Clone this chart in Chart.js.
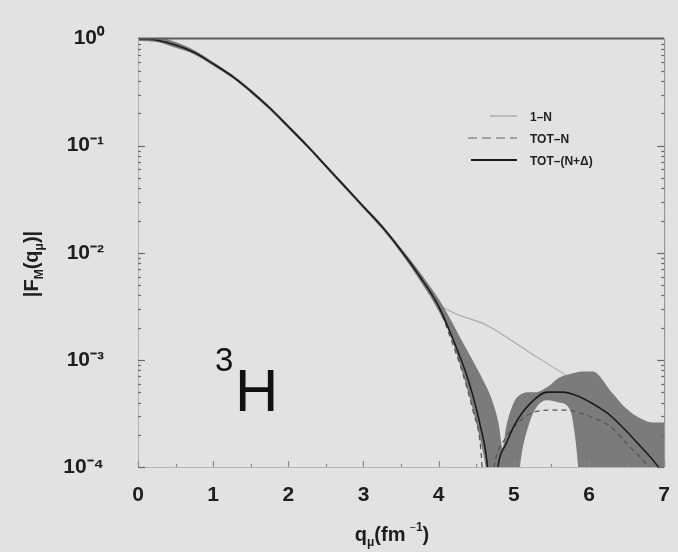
<!DOCTYPE html>
<html><head><meta charset="utf-8">
<script src="https://cdn.jsdelivr.net/npm/chart.js@4.4.1/dist/chart.umd.min.js"></script>
<style>
html,body{margin:0;padding:0;background:#e2e2e2;}
#wrap{width:678px;height:552px;position:relative;}
</style></head><body>
<div id="wrap"><canvas id="c" width="678" height="552"></canvas></div>
<script>
// ---- data ----
const qMain = [0,0.25,0.5,0.75,1,1.25,1.5,1.75,2,2.25,2.5,2.75,3,3.25,3.5,3.75];
const fMain = [1,0.966,0.871,0.741,0.582,0.447,0.324,0.226,0.151,0.100,0.0646,0.0417,0.0269,0.0174,0.0105,0.0060];

const q1NTail = [3.95,4.2,4.62,5.19,5.75,6.2,6.6,7.0];
const f1NTail = [0.0036,0.00275,0.00214,0.0012,0.00068,0.00044,0.00029,0.0002];

const qTotNTail = [4.0,4.15,4.3,4.45,4.56,4.63,4.75,4.9,5.1,5.3,5.5,5.7,5.9,6.1,6.28,6.5,6.77,7.0];
const fTotNTail = [0.00316,0.00166,0.00083,0.00035,0.00015,0.00003,0.000112,0.00019,0.000275,0.00033,0.00034,0.00034,0.000316,0.00028,0.00024,0.000166,0.000105,0.000063];

const qTotNDTail = [4.0,4.2,4.4,4.55,4.65,4.7,4.8,4.9,5.0,5.2,5.45,5.65,5.85,6.05,6.25,6.45,6.65,6.9,7.0];
const fTotNDTail = [0.00316,0.0015,0.00063,0.00025,0.0001,0.00003,0.000112,0.000166,0.00024,0.00038,0.0005,0.0005,0.00046,0.00039,0.000316,0.000234,0.000166,0.000105,0.000083];

const qBand = [0,0.25,0.5,0.75,1,1.25,1.5,1.75,2,2.25,2.5,2.75,3,3.25,3.5,3.75,4.0,4.15,4.3,4.45,4.6,4.7,4.8,4.85,4.9,5.0,5.1,5.2,5.3,5.45,5.6,5.75,5.82,5.9,6.05,6.3,6.5,6.7,6.85,7.0];
const bandUpper = [1.08,1.04,0.93,0.78,0.606,0.464,0.337,0.235,0.157,0.104,0.0672,0.0434,0.028,0.0182,0.0111,0.0066,0.0037,0.00245,0.00155,0.001,0.00063,0.00044,0.00025,0.00015,0.00024,0.0004,0.00048,0.0005,0.0005,0.00056,0.00068,0.00074,0.00076,0.00078,0.00078,0.0005,0.00035,0.00028,0.00026,0.00026];
const bandLower = [0.95,0.93,0.82,0.712,0.559,0.43,0.311,0.217,0.145,0.096,0.062,0.040,0.0258,0.0166,0.0099,0.0055,0.00285,0.00174,0.00083,0.000355,0.000126,0.00005,0.000025,0.000025,0.000025,0.000032,0.000126,0.00025,0.00036,0.00042,0.0004,0.00034,0.00018,0.00005,0.000025,0.000025,0.000025,0.000025,0.000025,0.000025];

const xTicks = [0,1,2,3,4,5,6,7];
const yTickValues = [1e-4,1e-3,1e-2,1e-1,1];
const yTickLabels = ['10\u207B\u2074','10\u207B\u00B3','10\u207B\u00B2','10\u207B\u00B9','10\u2070'];
const legendLabels = ['1\u2013N','TOT\u2013N','TOT\u2013(N+\u0394)'];

// ---- helpers ----
const pts = (qs, fs) => qs.map((q,i)=>({x:q, y:fs[i]}));
const FONT = '"Liberation Sans", Arial, Helvetica, sans-serif';

const data1N = pts(qMain, fMain).concat(pts(q1NTail, f1NTail));
const dataTotN = pts(qMain, fMain).concat(pts(qTotNTail, fTotNTail));
const dataTotND = pts(qMain, fMain).concat(pts(qTotNDTail, fTotNDTail));

const style1N = {color:'#a9a9a9', width:1.1, dash:[]};
const styleTotN = {color:'#555555', width:1.3, dash:[5,4]};
const styleTotND = {color:'#1c1c1c', width:1.6, dash:[]};

function drawRich(ctx, parts, x, y, align){
  let w = 0;
  parts.forEach(p=>{ ctx.font = (p.w||'bold')+' '+p.s+'px '+FONT; w += ctx.measureText(p.t).width + (p.gap||0); });
  let cx = align==='center' ? x - w/2 : x;
  parts.forEach(p=>{ ctx.font = (p.w||'bold')+' '+p.s+'px '+FONT; ctx.fillText(p.t, cx, y + (p.dy||0)); cx += ctx.measureText(p.t).width + (p.gap||0); });
}

const deco = {
  id:'deco',
  beforeDraw(chart){
    const ctx = chart.ctx; ctx.save(); ctx.fillStyle='#e2e2e2'; ctx.fillRect(0,0,chart.width,chart.height); ctx.restore();
  },
  afterDatasetsDraw(chart){
    const ctx = chart.ctx, a = chart.chartArea, xs = chart.scales.x, ys = chart.scales.y;
    ctx.save();
    ctx.strokeStyle='#5c5c5c'; ctx.lineWidth=2;
    ctx.beginPath(); ctx.moveTo(a.left, a.top); ctx.lineTo(a.right, a.top); ctx.stroke();
    ctx.strokeStyle='#8a8a8a'; ctx.lineWidth=1;
    ctx.beginPath(); ctx.moveTo(a.right+0.5, a.top); ctx.lineTo(a.right+0.5, a.bottom); ctx.stroke();
    ctx.strokeStyle='#b4b4b4';
    ctx.beginPath(); ctx.moveTo(a.left+0.5, a.top); ctx.lineTo(a.left+0.5, a.bottom); ctx.stroke();
    ctx.beginPath(); ctx.moveTo(a.left, a.bottom+0.5); ctx.lineTo(a.right, a.bottom+0.5); ctx.stroke();
    ctx.strokeStyle='#6a6a6a'; ctx.lineWidth=1.2;
    for (let e=-4; e<0; e++){
      for (let k=1; k<=9; k++){
        const v = k*Math.pow(10,e); const y = Math.round(ys.getPixelForValue(v))+0.5;
        const len = k===1 ? 7 : 3;
        ctx.beginPath(); ctx.moveTo(a.left, y); ctx.lineTo(a.left+len, y); ctx.stroke();
        ctx.beginPath(); ctx.moveTo(a.right, y); ctx.lineTo(a.right-len, y); ctx.stroke();
      }
    }
    ctx.strokeStyle='#8a8a8a';
    for (let i=0;i<xTicks.length;i++){
      const x = Math.round(xs.getPixelForValue(xTicks[i]))+0.5;
      ctx.beginPath(); ctx.moveTo(x, a.bottom); ctx.lineTo(x, a.bottom-6); ctx.stroke();
      if (i<xTicks.length-1){
        const xm = Math.round(xs.getPixelForValue(xTicks[i]+0.5))+0.5;
        ctx.beginPath(); ctx.moveTo(xm, a.bottom); ctx.lineTo(xm, a.bottom-3); ctx.stroke();
      }
    }
    ctx.restore();
  },
  afterDraw(chart){
    const ctx = chart.ctx;
    ctx.save();
    ctx.fillStyle='#1e1e1e'; ctx.textBaseline='alphabetic';
    drawRich(ctx, [{t:'q',s:20},{t:'\u03BC',s:12,dy:5},{t:'(fm',s:20,gap:4},{t:'\u2212',s:11,dy:-10,w:'normal'},{t:'1',s:12,dy:-10},{t:')',s:20}], 392, 541, 'center');
    ctx.translate(38, 264); ctx.rotate(-Math.PI/2);
    drawRich(ctx, [{t:'|F',s:20},{t:'M',s:12,dy:5},{t:'(q',s:20},{t:'\u03BC',s:12,dy:5},{t:')|',s:20}], 0, 0, 'center');
    ctx.setTransform(1,0,0,1,0,0);
    ctx.fillStyle='#111';
    ctx.font='normal 33px '+FONT; ctx.fillText('3', 215, 371);
    ctx.font='normal 60px '+FONT; ctx.fillText('H', 235, 411);
    const entries = [
      {lab:legendLabels[0], st:style1N, x1:490, x2:517, y:116},
      {lab:legendLabels[1], st:styleTotN, x1:468, x2:517, y:138},
      {lab:legendLabels[2], st:styleTotND, x1:471, x2:517, y:160}
    ];
    entries.forEach(en=>{
      ctx.strokeStyle = en.st===styleTotN ? '#8d8d8d' : en.st.color;
      ctx.lineWidth = en.st.width+0.3; ctx.setLineDash(en.st===styleTotN ? [9,5] : en.st.dash);
      ctx.beginPath(); ctx.moveTo(en.x1, en.y); ctx.lineTo(en.x2, en.y); ctx.stroke();
      ctx.setLineDash([]);
      ctx.fillStyle='#222'; ctx.font='bold 12px '+FONT; ctx.fillText(en.lab, 530, en.y+5);
    });
    ctx.restore();
  }
};

new Chart(document.getElementById('c'), {
  type:'line',
  data:{
    datasets:[
      {label:legendLabels[2], data:dataTotND, borderColor:styleTotND.color, borderWidth:styleTotND.width, borderDash:styleTotND.dash, pointRadius:0, fill:false, cubicInterpolationMode:'monotone', order:0},
      {label:legendLabels[1], data:dataTotN, borderColor:styleTotN.color, borderWidth:styleTotN.width, borderDash:styleTotN.dash, pointRadius:0, fill:false, cubicInterpolationMode:'monotone', order:1},
      {label:'band upper', data:pts(qBand, bandUpper), borderWidth:0, borderColor:'rgba(0,0,0,0)', backgroundColor:'#7b7b7b', pointRadius:0, fill:'+1', cubicInterpolationMode:'monotone', order:5},
      {label:'band lower', data:pts(qBand, bandLower), borderWidth:0, borderColor:'rgba(0,0,0,0)', pointRadius:0, fill:false, cubicInterpolationMode:'monotone', order:6},
      {label:legendLabels[0], data:data1N, borderColor:style1N.color, borderWidth:style1N.width, pointRadius:0, fill:false, cubicInterpolationMode:'monotone', order:8}
    ]
  },
  options:{
    responsive:false, animation:false, devicePixelRatio:1,
    layout:{padding:{top:33, right:11, left:0, bottom:0}},
    plugins:{legend:{display:false}, tooltip:{enabled:false}},
    scales:{
      x:{type:'linear', min:0, max:7,
         afterBuildTicks:s=>{ s.ticks = xTicks.map(v=>({value:v})); },
         ticks:{font:{family:FONT, size:21, weight:'bold'}, color:'#1e1e1e', padding:8, maxRotation:0},
         grid:{display:false}, border:{display:false},
         afterFit:s=>{ s.height = 85; }},
      y:{type:'logarithmic', min:1e-4, max:1,
         afterBuildTicks:s=>{ s.ticks = yTickValues.map(v=>({value:v})); },
         ticks:{font:{family:FONT, size:21, weight:'bold'}, color:'#1e1e1e', padding:26,
                callback:(v)=>{ const i = yTickValues.findIndex(t=>Math.abs(t-v)/t<1e-6); return i>=0 ? yTickLabels[i] : ''; }},
         grid:{display:false}, border:{display:false},
         afterFit:s=>{ s.width = 138; }}
    }
  },
  plugins:[deco]
});
</script>
</body></html>
